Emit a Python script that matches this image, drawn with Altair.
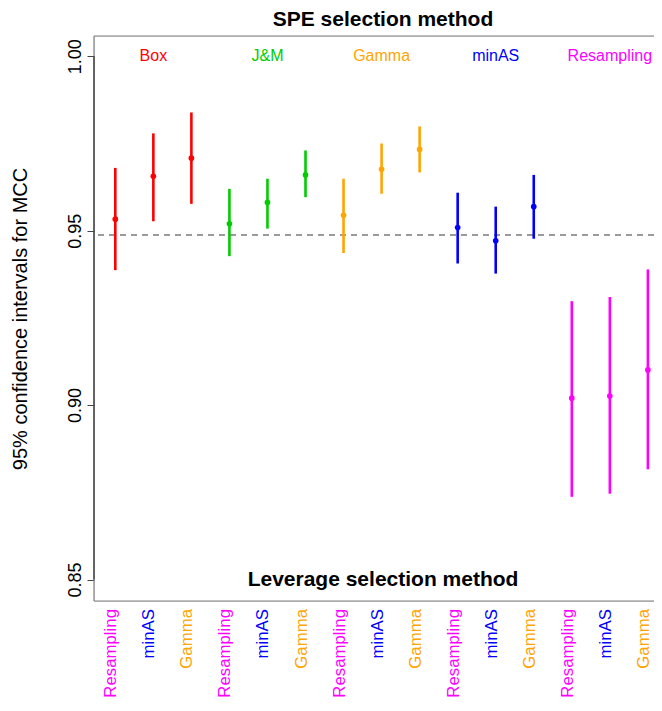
import altair as alt
import pandas as pd

# --- data ---
spe_methods = ["Box", "J&M", "Gamma", "minAS", "Resampling"]
leverage_methods = ["Resampling", "minAS", "Gamma"]

spe = [m for m in spe_methods for _ in range(3)]
lev = leverage_methods * 5

mcc_est = [0.9533, 0.9656, 0.9708,
           0.9520, 0.9581, 0.9660,
           0.9544, 0.9676, 0.9733,
           0.9509, 0.9471, 0.9569,
           0.9020, 0.9026, 0.9101]
mcc_lo = [0.9387, 0.9527, 0.9577,
          0.9427, 0.9506, 0.9596,
          0.9436, 0.9606, 0.9667,
          0.9406, 0.9377, 0.9477,
          0.8737, 0.8746, 0.8816]
mcc_hi = [0.9680, 0.9779, 0.9839,
          0.9620, 0.9649, 0.9730,
          0.9649, 0.9750, 0.9799,
          0.9609, 0.9569, 0.9660,
          0.9298, 0.9310, 0.9389]
ref_line = 0.9487

y_ticks = [0.85, 0.90, 0.95, 1.00]
method_colors = ["#FF0000", "#00CD00", "#FFA500", "#0000FF", "#FF00FF"]

FONT = "Liberation Sans"

df = pd.DataFrame({
    "x": list(range(1, 16)),
    "spe": spe,
    "lev": lev,
    "est": mcc_est,
    "lo": mcc_lo,
    "hi": mcc_hi,
})
top_df = df.groupby("spe", sort=False, as_index=False)["x"].mean()

W, H = 560, 565
x_scale = alt.Scale(domain=[0.44, 15.161], nice=False, zero=False)
y_scale = alt.Scale(domain=[0.84384, 1.00582], nice=False, zero=False)
color_scale = alt.Scale(domain=spe_methods, range=method_colors)

X = alt.X("x:Q", scale=x_scale, axis=None)

bars = alt.Chart(df).mark_rule(strokeWidth=2.6).encode(
    x=X,
    y=alt.Y("lo:Q", scale=y_scale, axis=alt.Axis(
        values=y_ticks, format=".2f", grid=False, domain=False,
        tickSize=7, tickColor="#444444", tickWidth=1,
        labelAngle=270, labelAlign="center", labelBaseline="bottom",
        labelPadding=3, labelFontSize=18, labelFont=FONT, labelColor="#000000",
        title="95% confidence intervals for MCC", titleFont=FONT,
        titleFontSize=20, titleFontWeight="normal", titleColor="#000000",
        titleAngle=270, titleX=-74, titleY=H / 2,
        titleAlign="center", titleBaseline="middle")),
    y2="hi:Q",
    color=alt.Color("spe:N", scale=color_scale, legend=None),
)

points = alt.Chart(df).mark_circle(size=32, opacity=1).encode(
    x=X,
    y=alt.Y("est:Q", scale=y_scale),
    color=alt.Color("spe:N", scale=color_scale, legend=None),
)

dashed = alt.Chart(df).mark_rule(
    strokeDash=[6, 5], color="#9a9a9a", strokeWidth=1.5
).encode(y=alt.datum(ref_line))

top_labels = alt.Chart(top_df).mark_text(
    fontSize=16, font=FONT, align="center", baseline="middle"
).encode(
    x=X,
    y=alt.datum(1.0),
    text="spe:N",
    color=alt.Color("spe:N", scale=color_scale, legend=None),
)

bottom_labels = alt.Chart(df).mark_text(
    fontSize=16.8, font=FONT, angle=270, align="right", baseline="middle", dy=-4
).encode(
    x=X,
    y=alt.value(573),
    text="lev:N",
    color=alt.Color("lev:N", scale=color_scale, legend=None),
)

title_top = alt.Chart(top_df.head(1)).mark_text(
    fontSize=21, font=FONT, fontWeight="bold", align="center",
    baseline="middle", color="#000000"
).encode(x=alt.value(289), y=alt.value(-16), text=alt.value("SPE selection method"))

title_bottom = alt.Chart(top_df.head(1)).mark_text(
    fontSize=21, font=FONT, fontWeight="bold", align="center",
    baseline="middle", color="#000000"
).encode(x=alt.value(289), y=alt.datum(0.85), text=alt.value("Leverage selection method"))

frame_top = alt.Chart(top_df.head(1)).mark_rule(color="#808080", strokeWidth=1.2).encode(
    y=alt.value(0))
frame_bottom = alt.Chart(top_df.head(1)).mark_rule(color="#808080", strokeWidth=1.2).encode(
    y=alt.value(H))
frame_left = alt.Chart(top_df.head(1)).mark_rule(color="#808080", strokeWidth=1.2).encode(
    x=alt.value(0))
axis_line = alt.Chart(top_df.head(1)).mark_rule(color="#333333", strokeWidth=1.2).encode(
    x=alt.value(0), y=alt.datum(0.85), y2=alt.datum(1.0))

chart = alt.layer(
    dashed, frame_top, frame_bottom, frame_left, axis_line,
    bars, points, top_labels, bottom_labels, title_top, title_bottom,
).properties(
    width=W, height=H,
    autosize=alt.AutoSizeParams(type="none"),
    padding={"left": 86, "top": 28, "right": 0, "bottom": 97},
).configure_view(stroke=None).configure(background="#ffffff")

chart.save("out.html", embed_options={"renderer": "svg", "actions": False})
